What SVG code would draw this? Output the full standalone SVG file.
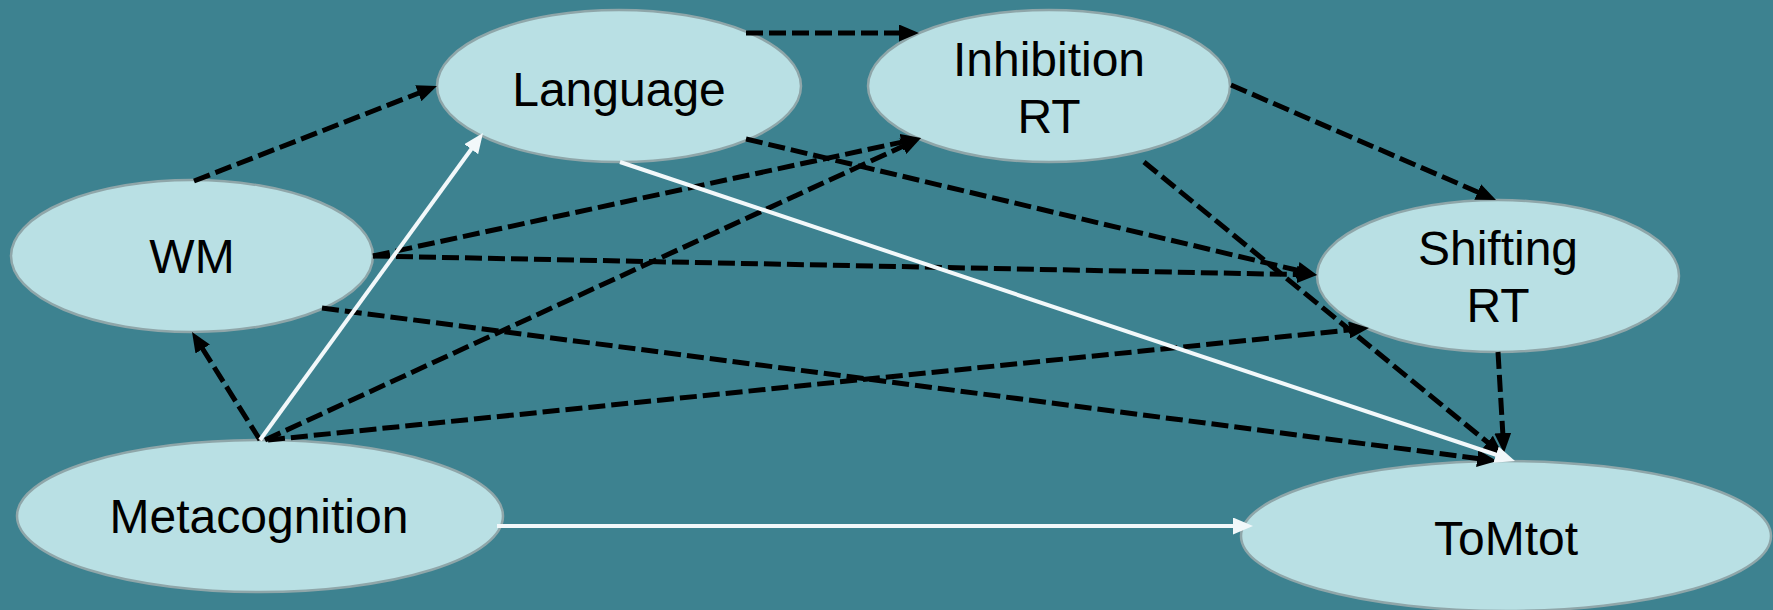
<svg xmlns="http://www.w3.org/2000/svg" width="1773" height="610" viewBox="0 0 1773 610">
<style>
.node ellipse{fill:#B9E0E4;stroke:#8FA6A9;stroke-width:2.5}
.node text{font-family:"Liberation Sans",Arial,sans-serif;font-size:48px;fill:#000;text-anchor:middle}
.dash{stroke:#000;stroke-width:5;stroke-dasharray:17 6;fill:none;marker-end:url(#ab)}
.solid{stroke:#F2F8FA;stroke-width:4;fill:none;marker-end:url(#aw)}
</style>
<defs>
<marker id="ab" markerUnits="userSpaceOnUse" markerWidth="20" markerHeight="17" viewBox="0 0 20 17" refX="12" refY="8.5" orient="auto"><path d="M0,0 L20,8.5 L0,17 z" fill="#000"/></marker>
<marker id="aw" markerUnits="userSpaceOnUse" markerWidth="20" markerHeight="17" viewBox="0 0 20 17" refX="12" refY="8.5" orient="auto"><path d="M0,0 L20,8.5 L0,17 z" fill="#F2F8FA"/></marker>
</defs>
<rect width="1773" height="610" fill="#3D8290"/>
<g id="n-language" class="node"><ellipse cx="619" cy="86" rx="182" ry="76"/><text x="619" y="106">Language</text></g>
<g id="n-inhibition" class="node"><ellipse cx="1049" cy="86" rx="181" ry="76"/><text x="1049" y="76">Inhibition</text><text x="1049" y="133">RT</text></g>
<g id="n-wm" class="node"><ellipse cx="192" cy="256" rx="181" ry="76"/><text x="192" y="273">WM</text></g>
<g id="n-shifting" class="node"><ellipse cx="1498" cy="276" rx="181" ry="76"/><text x="1498" y="265">Shifting</text><text x="1498" y="322">RT</text></g>
<g id="n-meta" class="node"><ellipse cx="260" cy="516" rx="243" ry="76"/><text x="259" y="533">Metacognition</text></g>
<g id="n-tomtot" class="node"><ellipse cx="1506" cy="536" rx="265" ry="75"/><text x="1506" y="555">ToMtot</text></g>
<g id="connectors">
<line class="dash" x1="746" y1="33" x2="911" y2="33"/>
<line class="dash" x1="194" y1="181" x2="429.5" y2="88.9"/>
<line class="dash" x1="373" y1="256" x2="913.2" y2="139.7"/>
<line class="dash" x1="373" y1="256" x2="1309" y2="274.8"/>
<line class="dash" x1="322" y1="308" x2="1489.1" y2="460"/>
<line class="dash" x1="746" y1="139" x2="1309.2" y2="273.1"/>
<line class="dash" x1="1231" y1="85" x2="1488.7" y2="196.8"/>
<line class="dash" x1="1144" y1="162" x2="1496.8" y2="449.9"/>
<line class="dash" x1="1498" y1="352" x2="1503.5" y2="445"/>
<line class="dash" x1="260" y1="440" x2="196.3" y2="338.8"/>
<line class="dash" x1="265" y1="440" x2="913.7" y2="141.3"/>
<line class="dash" x1="268" y1="440" x2="1361" y2="328.8"/>
<line class="solid" x1="620" y1="162" x2="1507.4" y2="458.5"/>
<line class="solid" x1="260" y1="440" x2="478.3" y2="139.5"/>
<line class="solid" x1="497" y1="526" x2="1245" y2="526"/>
</g>
</svg>
